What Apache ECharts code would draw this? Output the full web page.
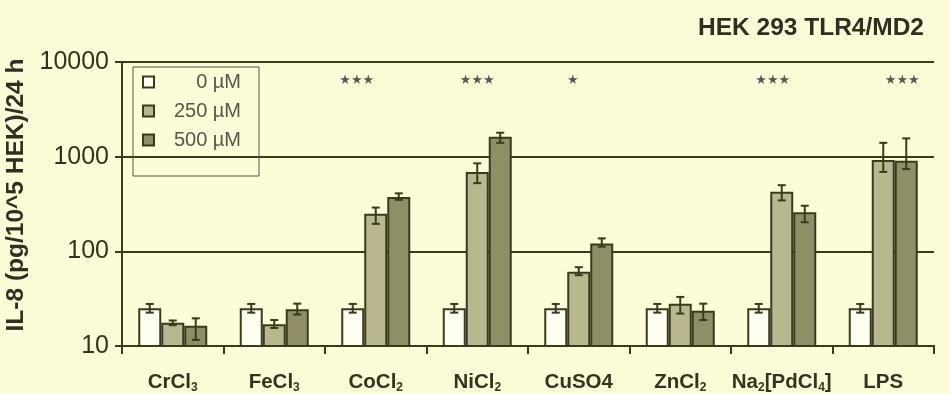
<!DOCTYPE html>
<html>
<head>
<meta charset="utf-8">
<script src="https://cdn.jsdelivr.net/npm/echarts@6/dist/echarts.min.js"></script>
<style>
  html, body { margin: 0; padding: 0; background: #fdfcd9; }
  #chart { width: 950px; height: 394px; }
</style>
</head>
<body>
<div id="chart"></div>
<script>
// IL-8 release of HEK 293 TLR4/MD2 cells after 24 h metal salt exposure
const categories = ['CrCl|3', 'FeCl|3', 'CoCl|2', 'NiCl|2', 'CuSO4', 'ZnCl|2', 'Na|2|[PdCl|4|]', 'LPS'];
const doses = ['0 µM', '250 µM', '500 µM'];

// mean values (pg / 10^5 HEK / 24 h)
const mean0   = [25, 25, 25, 25, 25, 25, 25, 25];
const mean250 = [17.6, 17, 250, 690, 61, 28, 425, 920];
const mean500 = [16.4, 24.5, 375, 1620, 121, 23.5, 258, 905];

// error bar ends
const low0    = [22.5, 22.5, 22.5, 22.5, 22.5, 22.5, 22.5, 22.5];
const high0   = [27.8, 27.8, 27.8, 27.8, 27.8, 27.8, 27.8, 27.8];
const low250  = [16.6, 15.5, 195, 525, 56, 22, 345, 690];
const high250 = [18.6, 18.8, 290, 850, 68, 33, 500, 1400];
const low500  = [11.6, 21.5, 350, 1400, 112, 18.8, 203, 740];
const high500 = [19.6, 28, 410, 1790, 137, 28, 303, 1560];

// significance marks per category
const significance = ['', '', '★★★', '★★★', '★', '', '★★★', '★★★'];

const yTicks = [10, 100, 1000, 10000];

// drawing style
const INK = '#3b3a1e';
const BAR_W = 23;
const fills = ['#fffff2', '#b8b78e', '#8f8e67'];
const starShift = [0, 0, -19, 0, -6, 0, -9, 19];
const STAR_Y = 6400;

function catLabel(v) {
  // "Na|2|[PdCl|4|]" -> alternating normal / subscript pieces
  const parts = v.split('|');
  return parts.map((p, i) => i % 2 === 0 ? '{m|' + p + '}' : '{s|' + p + '}').join('');
}

const means = [mean0, mean250, mean500];
const lows = [low0, low250, low500];
const highs = [high0, high250, high500];

const barSeries = doses.map((d, k) => ({
  name: d,
  type: 'bar',
  data: means[k],
  barWidth: BAR_W,
  barGap: '0%',
  itemStyle: { color: fills[k], borderColor: INK, borderWidth: 2 },
  emphasis: { disabled: true },
  z: 2
}));

const errSeries = doses.map((d, k) => ({
  type: 'custom',
  name: d + ' err',
  data: categories.map((c, i) => [i, lows[k][i], highs[k][i]]),
  z: 5,
  silent: true,
  renderItem: function (params, api) {
    const i = api.value(0);
    const lo = api.coord([i, api.value(1)]);
    const hi = api.coord([i, api.value(2)]);
    const x = lo[0] + (k - 1) * BAR_W;
    const cap = 4;
    const st = { stroke: INK, lineWidth: 2 };
    return {
      type: 'group',
      children: [
        { type: 'line', shape: { x1: x, y1: lo[1], x2: x, y2: hi[1] }, style: st },
        { type: 'line', shape: { x1: x - cap, y1: lo[1], x2: x + cap, y2: lo[1] }, style: st },
        { type: 'line', shape: { x1: x - cap, y1: hi[1], x2: x + cap, y2: hi[1] }, style: st }
      ]
    };
  }
}));

const starSeries = {
  type: 'scatter',
  symbolSize: 0,
  silent: true,
  data: significance.map((s, i) => ({
    value: [i, STAR_Y],
    label: { show: s !== '', formatter: s, offset: [starShift[i], 0] }
  })),
  label: {
    position: 'inside',
    color: '#2e2e2e',
    fontSize: 13,
    fontFamily: 'DejaVu Sans'
  },
  z: 6
};

const chart = echarts.init(document.getElementById('chart'), null, { renderer: 'canvas' });
chart.setOption({
  backgroundColor: '#fdfcd9',
  animation: false,
  title: {
    text: 'HEK 293 TLR4/MD2',
    right: 21,
    top: 11,
    textStyle: { fontFamily: 'Liberation Sans', fontWeight: 'bold', fontSize: 24.5, color: '#2f2f22' }
  },
  legend: {
    data: doses,
    orient: 'vertical',
    left: 133,
    top: 67,
    padding: [5, 18, 26, 9],
    itemGap: 9,
    itemWidth: 11,
    itemHeight: 11,
    icon: 'rect',
    borderColor: '#55544a',
    borderWidth: 1,
    borderRadius: 0,
    selectedMode: false,
    itemStyle: { borderColor: INK, borderWidth: 2 },
    formatter: name => '{t|' + name + '}',
    textStyle: {
      rich: {
        t: { width: 82, align: 'right', fontSize: 20, lineHeight: 20, color: '#57564a', fontFamily: 'Liberation Sans' }
      }
    }
  },
  grid: { left: 122, right: 16, top: 62, bottom: 48, outerBoundsMode: 'none', containLabel: false },
  xAxis: {
    type: 'category',
    data: categories,
    boundaryGap: true,
    axisLine: { lineStyle: { color: INK, width: 2 } },
    axisTick: { show: true, interval: 0, length: 8, lineStyle: { color: INK, width: 2 } },
    axisLabel: {
      interval: 0,
      margin: 24,
      formatter: catLabel,
      rich: {
        m: { fontFamily: 'Liberation Sans', fontWeight: 'bold', fontSize: 20.5, lineHeight: 24, color: '#35341e', verticalAlign: 'middle' },
        s: { fontFamily: 'Liberation Sans', fontWeight: 'bold', fontSize: 12, lineHeight: 12, color: '#35341e', verticalAlign: 'bottom' }
      }
    },
    splitLine: { show: false }
  },
  yAxis: {
    type: 'log',
    logBase: 10,
    min: yTicks[0],
    max: yTicks[yTicks.length - 1],
    name: 'IL-8 (pg/10^5 HEK)/24 h',
    nameLocation: 'middle',
    nameGap: 91,
    nameTextStyle: {
      fontFamily: 'Liberation Sans', fontWeight: 'bold', fontSize: 24.5, color: '#2f2f22',
      padding: [0, 0, 0, 18]
    },
    axisLine: { show: true, lineStyle: { color: INK, width: 2 } },
    axisTick: { show: true, length: 7, lineStyle: { color: INK, width: 2 } },
    minorTick: { show: false },
    axisLabel: {
      margin: 13,
      fontFamily: 'Liberation Sans',
      fontSize: 25,
      color: '#33331f',
      formatter: v => String(Math.round(v))
    },
    splitLine: { show: true, lineStyle: { color: INK, width: 2 } }
  },
  series: [...barSeries, ...errSeries, starSeries]
});
</script>
</body>
</html>
